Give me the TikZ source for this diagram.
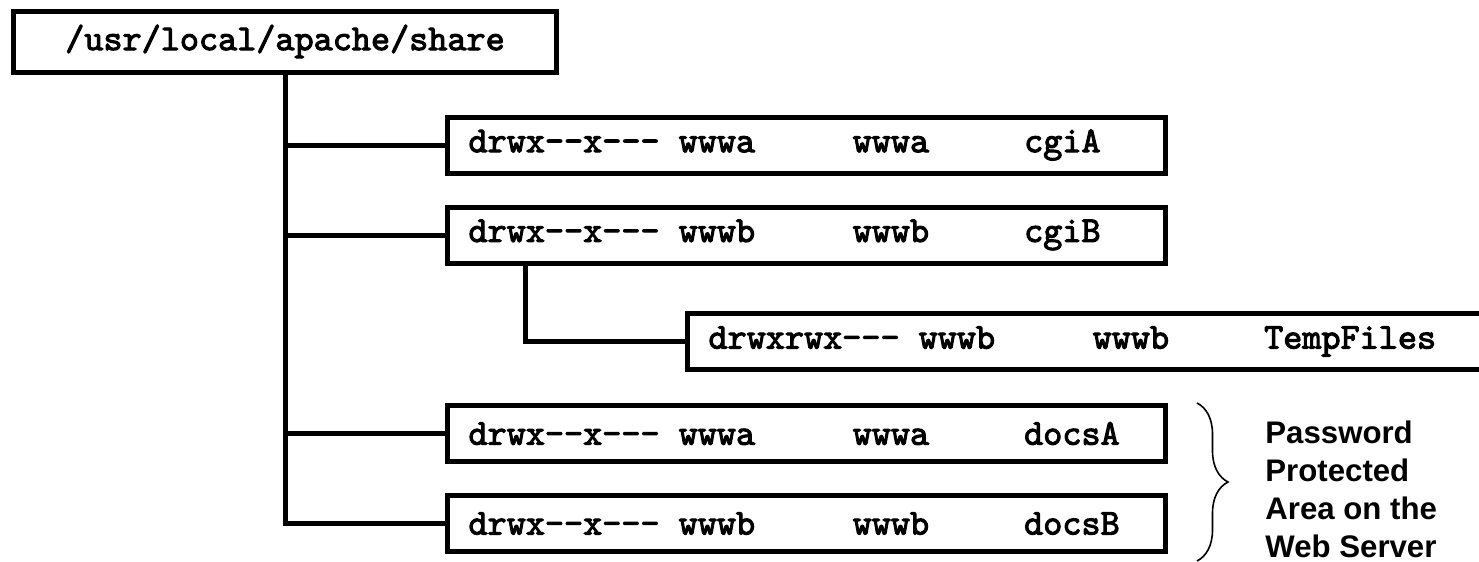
\documentclass[tikz,border=0pt]{standalone}
\usepackage{fontspec}
\setsansfont{Liberation Sans}
\newfontfamily\heavymono{lmmono10-regular.otf}[FakeBold=2.8]
\usetikzlibrary{decorations.pathreplacing}

% one line of a directory listing: mode, owner, group, name in fixed columns
% (column stops given in character cells of 0.525em)
\newcommand{\permline}[4]{%
  \makebox[5.775em][l]{#1}\makebox[4.78em][l]{#2}\makebox[4.71em][l]{#3}#4}

\begin{document}
\begin{tikzpicture}[x=0.5pt,y=-0.5pt,
  mono/.style={font=\heavymono\fontsize{18.2}{21}\selectfont},
  rootbox/.style={draw, line width=2.5pt, mono, minimum width=271.5pt,
    minimum height=30.5pt, inner sep=0pt},
  dirbox/.style={draw, line width=2.5pt, mono, anchor=west,
    minimum height=28pt, inner xsep=10.5pt, inner ysep=0pt, text width=338pt},
  wire/.style={line width=2.5pt},
  note/.style={font=\sffamily\bfseries\fontsize{15.6}{19}\selectfont,
    align=left, inner sep=0pt, anchor=north west},
  bracket/.style={line width=0.8pt, decorate,
    decoration={brace, amplitude=15.5pt, aspect=0.5}}]
\useasboundingbox (0,0) rectangle (1479,562);
\clip (0,0) rectangle (1479,562);

% directory boxes
\node[rootbox] (root) at (285,41.5) {/usr/local/apache/share};
\node[dirbox] (cgiA)  at (445,145)   {\permline{drwx--x---}{wwwa}{wwwa}{cgiA}};
\node[dirbox] (cgiB)  at (445,235)   {\permline{drwx--x---}{wwwb}{wwwb}{cgiB}};
\node[dirbox, text width=386.5pt] (temp) at (685,341.5)
  {\permline{drwxrwx---}{wwwb}{wwwb}{TempFiles}};
\node[dirbox] (docsA) at (445,433.5) {\permline{drwx--x---}{wwwa}{wwwa}{docsA}};
\node[dirbox] (docsB) at (445,523.5) {\permline{drwx--x---}{wwwb}{wwwb}{docsB}};

% main trunk and its branches
\coordinate (trunkend) at (root.south |- docsB.west);
\draw[wire] (root.south) -- (trunkend) -- (docsB.west);
\foreach \d in {cgiA,cgiB,docsA}
  \draw[wire] (root.south |- \d.west) -- (\d.west);

% sub-directory of cgiB
\coordinate (subtop) at ([xshift=40pt]cgiB.south west);
\draw[wire] (subtop) -- (subtop |- temp.west) -- (temp.west);

% brace and note for the protected area
\coordinate (bracetop) at (1197,403);
\coordinate (bracebot) at (1197,561);
\draw[bracket] (bracetop) -- (bracebot);
\node[note] (area) at (1265,420) {Password\\Protected\\Area on the\\Web Server};
\end{tikzpicture}
\end{document}
